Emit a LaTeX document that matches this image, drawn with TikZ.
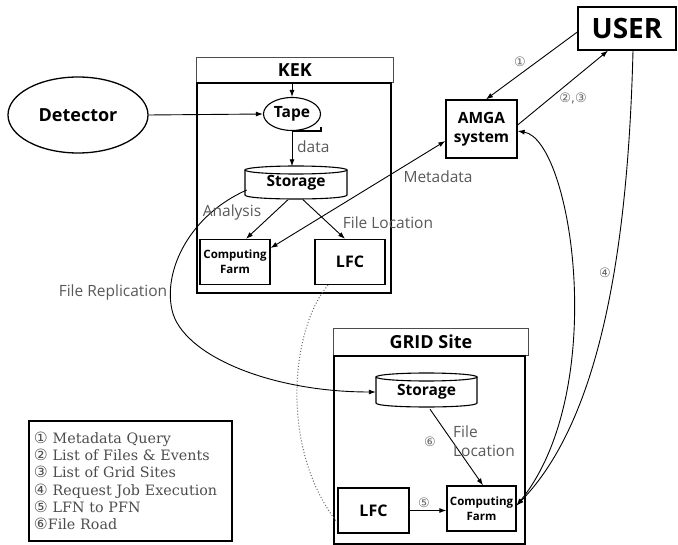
\documentclass[tikz,border=0pt]{standalone}
\usepackage{fontspec}
\setmainfont{Open Sans}
\newfontfamily\legfont{DejaVu Serif}
\newfontfamily\symfont{DejaVu Sans}
\usetikzlibrary{arrows.meta,shapes.geometric}

\newcommand{\mycyl}[4]{%
  \draw[line width=1.1pt] (#1,#3+4) ellipse[x radius=#2pt, y radius=4pt];
  \draw[line width=1.1pt] (#1-#2,#3+4) -- (#1-#2,#4-4) .. controls (#1-#2,#4+1.33) and (#1+#2,#4+1.33) .. (#1+#2,#4-4) -- (#1+#2,#3+4);
}
\newcommand{\cnum}[1]{{\symfont\fontsize{15.5}{17}\selectfont #1}}

\tikzset{
  >={Latex[length=7pt,width=5pt]},
  box/.style={draw, line width=1.3pt, font=\bfseries, align=center, inner sep=0pt},
  conn/.style={line width=0.9pt},
  lbl/.style={text=black!65, font=\fontsize{15.5}{17}\selectfont, inner sep=1pt},
  num/.style={text=black!60, font=\symfont\fontsize{13}{15}\selectfont, inner sep=1pt},
  titlebar/.style={draw=black!70, line width=0.9pt, inner sep=0pt, anchor=north west, font=\bfseries\fontsize{18}{20}\selectfont},
  mainbox/.style={draw, line width=1.6pt, anchor=north west},
}

\begin{document}
\begin{tikzpicture}[x=1pt,y=-1pt]
\useasboundingbox (0,0) rectangle (678,545);

% KEK site
\node[titlebar, minimum width=197pt, minimum height=25pt] (kekt) at (196,57) {KEK};
\node[mainbox, minimum width=194pt, minimum height=210pt] (kek) at (196,82) {};

% GRID site
\node[titlebar, minimum width=195pt, minimum height=27pt] (gridt) at (333,328) {GRID Site};
\node[mainbox, minimum width=191pt, minimum height=188pt] (grid) at (333,355) {};

% Detector
\node[draw, ellipse, line width=1.3pt, minimum width=140pt, minimum height=76pt, inner sep=0pt,
      font=\bfseries\fontsize{18}{20}\selectfont] (det) at (78,115) {Detector};

% Tape
\node[draw, ellipse, line width=1.1pt, minimum width=57pt, minimum height=33pt, inner sep=0pt,
      font=\bfseries\fontsize{15.5}{17}\selectfont] (tape) at (292,114) {Tape};
\draw[line width=1.1pt] (tape.south) -- ++(29,0) -- ++(0,-4);

% Storage (KEK)
\node[minimum width=102pt, minimum height=33pt, inner sep=0pt, font=\bfseries\fontsize{15.5}{17}\selectfont] (st1) at (296,183) {Storage};
\mycyl{296}{51}{166}{199}

% Computing farm and LFC (KEK)
\node[box, minimum width=70pt, minimum height=45pt, font=\bfseries\fontsize{11.5}{15}\selectfont] (kcf) at (235,262) {Computing\\Farm};
\node[box, minimum width=70pt, minimum height=45pt, font=\bfseries\fontsize{16}{18}\selectfont] (klfc) at (350,262) {LFC};

% AMGA and USER
\node[box, minimum width=71pt, minimum height=58pt, font=\bfseries\fontsize{15.5}{19}\selectfont] (amga) at (481.5,129) {AMGA\\system};
\node[box, minimum width=98pt, minimum height=43pt, font=\bfseries\fontsize{28}{30}\selectfont] (user) at (627,28.5) {USER};

% GRID site contents
\node[minimum width=101pt, minimum height=34pt, inner sep=0pt, font=\bfseries\fontsize{15.5}{17}\selectfont] (st2) at (426.5,392) {Storage};
\mycyl{426.5}{50.5}{373}{407}
\node[box, minimum width=69pt, minimum height=45pt, font=\bfseries\fontsize{11.5}{15}\selectfont] (gcf) at (481.5,508.5) {Computing\\Farm};
\node[box, minimum width=71pt, minimum height=45pt, font=\bfseries\fontsize{16}{18}\selectfont] (glfc) at (373.5,510.5) {LFC};

% Legend
\node[draw, line width=1.4pt, minimum width=203pt, minimum height=120pt, text width=193pt, inner xsep=5pt,
      align=left, text=black!70, font=\legfont\fontsize{14.3}{17.3}\selectfont] (leg) at (130.5,481)
 {\cnum{①} Metadata Query\\
  \cnum{②} List of Files \& Events\\
  \cnum{③} List of Grid Sites\\
  \cnum{④} Request Job Execution\\
  \cnum{⑤} LFN to PFN\\
  \cnum{⑥}File Road};

% Connectors
\coordinate (kin) at (kekt.south -| tape.north);
\draw[conn,->] (kin) -- (tape.north);
\draw[conn,->] (det.east) -- (tape.west);
\draw[conn,->] (tape.south) -- (tape.south |- st1.north);
\draw[conn,->] ([xshift=-8pt]st1.south) -- ([xshift=11pt]kcf.north);
\draw[conn,->] ([xshift=7pt]st1.south) -- ([xshift=-5pt]klfc.north);
\draw[conn,<->] ([yshift=14pt]kcf.east) -- ([yshift=-12pt]amga.west);

\draw[conn,->] ([yshift=-3.5pt]user.west) -- ([xshift=4.5pt]amga.north);
\draw[conn,->] ([yshift=4pt]amga.east) -- ([xshift=-19pt]user.south);
\draw[conn,->] ([xshift=6pt]user.south) .. controls (628,250) and (600,420) .. ([yshift=3pt]gcf.east);
\draw[conn,<->] ([yshift=-2pt]amga.east) .. controls (572,140) and (610,390) .. ([yshift=3pt]gcf.east);

\draw[conn,->] ([shift={(2pt,-7pt)}]st1.west) .. controls (190,215) and (163,270) .. (172,310)
   .. controls (182,355) and (270,392) .. (st2.west);
\draw[line width=1pt, dotted, black!60] ([xshift=-22pt]klfc.south) .. controls (290,330) and (280,450) .. ([yshift=-12pt]glfc.west);

\draw[conn,->] ([xshift=3.5pt]st2.south) -- ([xshift=1.5pt]gcf.north);
\draw[conn,->] (glfc.east) -- (glfc.east -| gcf.west);

% Labels
\node[lbl, anchor=west] at (296,147) {data};
\node[lbl] at (232,212) {Analysis};
\node[lbl] at (388,223) {File Location};
\node[lbl] at (438,177) {Metadata};
\node[lbl] at (113,292) {File Replication};
\node[lbl, anchor=west, align=left, font=\fontsize{15.5}{19}\selectfont] at (452,441) {File\\Location};
\node[num] at (430,442) {⑥};
\node[num] at (424,503) {⑤};
\node[num] at (605,273) {④};
\node[num] at (520,62) {①};
\node[num] at (573,98) {②,③};
\end{tikzpicture}
\end{document}
